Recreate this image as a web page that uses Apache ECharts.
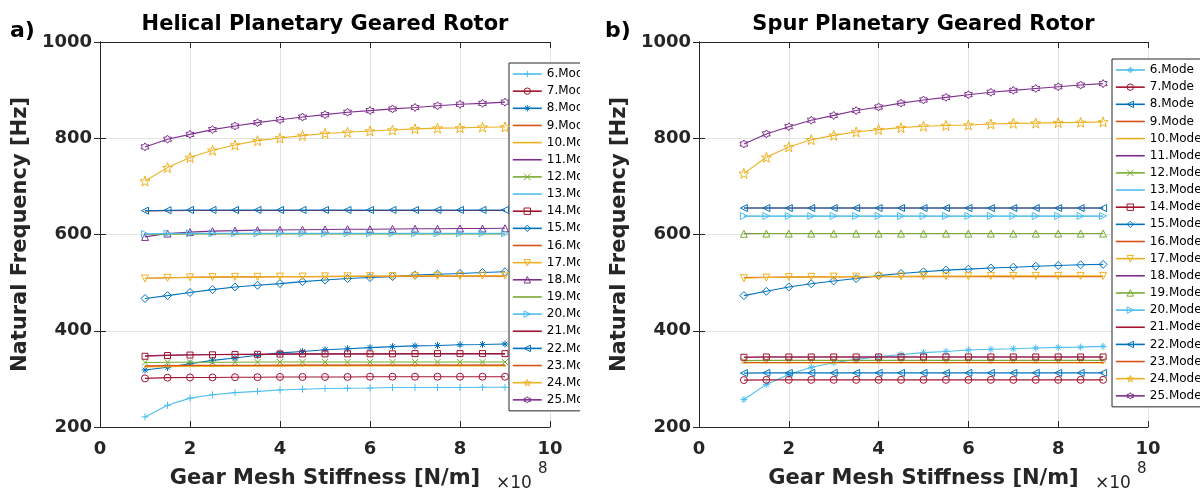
<!DOCTYPE html>
<html><head><meta charset="utf-8">
<script src="https://cdn.jsdelivr.net/npm/echarts@6/dist/echarts.min.js"></script>
<style>
html,body{margin:0;padding:0;background:#fff;width:1200px;height:494px;overflow:hidden}
#a{position:absolute;left:0;top:0;width:580px;height:494px}
#b{position:absolute;left:590px;top:0;width:610px;height:494px}
</style>
</head><body><div id="a"></div><div id="b"></div>
<script>
// ---------------- data ----------------
const xs = [1,1.5,2,2.5,3,3.5,4,4.5,5,5.5,6,6.5,7,7.5,8,8.5,9];
const xTicks = [0,2,4,6,8,10];
const yTicks = [200,400,600,800,1000];
const modeNames = ['6.Mode','7.Mode','8.Mode','9.Mode','10.Mode','11.Mode','12.Mode','13.Mode','14.Mode','15.Mode','16.Mode','17.Mode','18.Mode','19.Mode','20.Mode','21.Mode','22.Mode','23.Mode','24.Mode','25.Mode'];

// a) Helical planetary geared rotor
const h6  = [221,245,260,267,271.5,274,277,278.5,280,280.5,281,282,282,282,282,282.5,282.5];
const h7  = [301,302.5,303,303,303.5,303.5,304,304,304,304,304.5,304.5,304.5,304.5,304.5,304.5,304.5];
const h8  = [318.5,324,331.5,338.5,343.5,349,354,357,360.5,362.5,365,367,368.5,369.5,371,371.5,372.5];
const h9  = [326,326.5,327,327,327.5,327.5,327.5,328,328,328,328,328,328,328,328,328,328];
const h10 = [325,325.5,326,326,326.5,326.5,326.5,327,327,327,327,327,327,327,327,327,327];
const h11 = [348,349.5,350,350.5,351,351,351.5,351.5,351.5,352,352,352,352,352,352,352,352];
const h12 = [334,334.5,334.5,334.5,334.5,335,335,335,335,335,335,335,335,335,335,335,335];
const h13 = [601,601.5,601.5,602,602,602,602,602,602,602,602,602,602,602,602,602,602];
const h14 = [347,348.5,349.5,350,350.5,351,351.5,352,352,352,352,352,352.5,352.5,352.5,352.5,352.5];
const h15 = [467,473,479.5,485.5,491,494.5,498,502,505.5,508.5,510.5,512.5,515.5,517.5,519,521,522.5];
const h16 = [509,510,511,511.5,512,512,512.5,512.5,512.5,513,513,513,513,513.5,513.5,513.5,513.5];
const h17 = [508.5,510,511,511.5,512,512,512.5,512.5,513,513,513.5,513.5,514,514,514,514.5,514.5];
const h18 = [595,602,605,607,608,609,609.5,610,610.5,611,611,611.5,612,612,612.5,612.5,613];
const h19 = [600,600.5,601,601,601,601,601,601,601,601,601,601,601,601,601,601,601];
const h20 = [601,602,602.5,602.5,602.5,602.5,602.5,602.5,602.5,602.5,602.5,602.5,602.5,602.5,602.5,602.5,602.5];
const h21 = [649,649.5,650,650,650,650,650,650,650,650,650,650,650,650,650,650,650];
const h22 = [649.5,650.5,651,651,651,651,651,651,651,651,651,651,651,651,651,651,651];
const h23 = [327,327.5,328,328,328,328,328.5,328.5,328.5,328.5,328.5,328.5,328.5,328.5,328.5,328.5,328.5];
const h24 = [711,739,760,775,786,795,800.5,805.5,810,812.5,815,817,819.5,821,821.5,823,823.5];
const h25 = [782,798,808,818,825.5,832.5,838.5,844,849,854,857.5,861,864,867.5,870.5,872.5,875];

// b) Spur planetary geared rotor
const s6  = [257,288.5,309,324,333.5,340.5,346,350.5,354.5,357,360,361.5,362.5,364,365.5,366,367.5];
const s7  = [297.5,298,298,298,298,298,298,298,298,298,298,298,298,298,298,298,298];
const s8  = [312,312.5,312.5,312.5,312.5,312.5,312.5,312.5,312.5,312.5,312.5,312.5,312.5,312.5,312.5,312.5,312.5];
const s9  = [334,334,334,334,334,334,334,334,334,334,334,334,334,334,334,334,334];
const s10 = [333,333,333,333,333,333,333,333,333,333,333,333,333,333,333,333,333];
const s11 = [345,345.5,345.5,345.5,345.5,345.5,345.5,345.5,345.5,345.5,345.5,345.5,345.5,345.5,345.5,345.5,345.5];
const s12 = [338,338.5,338.5,338.5,338.5,338.5,338.5,338.5,338.5,338.5,338.5,338.5,338.5,338.5,338.5,338.5,338.5];
const s13 = [638,638,638,638,638,638,638,638,638,638,638,638,638,638,638,638,638];
const s14 = [345,345.5,345.5,345.5,345.5,345.5,345.5,345.5,345.5,345.5,345.5,345.5,345.5,345.5,345.5,345.5,345.5];
const s15 = [473,482,491,497.5,503.5,508.5,514.5,519,522.5,526,528,530.5,532,534,535.5,537,538];
const s16 = [510.5,511,511.5,512,512,512.5,512.5,512.5,512.5,512.5,512.5,512.5,512.5,512.5,512.5,512.5,512.5];
const s17 = [509,510.5,511.5,512,512.5,512.5,513,513,513.5,513.5,513.5,514,514,514,514,514,514];
const s18 = [602,602,602,602,602,602,602,602,602,602,602,602,602,602,602,602,602];
const s19 = [601.5,602,602,602,602,602,602,602,602,602,602,602,602,602,602,602,602];
const s20 = [638.5,638.5,638.5,638.5,638.5,638.5,638.5,638.5,638.5,638.5,638.5,638.5,638.5,638.5,638.5,638.5,638.5];
const s21 = [655,655,655,655,655,655,655,655,655,655,655,655,655,655,655,655,655];
const s22 = [655,655,655,655,655,655,655,655,655,655,655,655,655,655,655,655,655];
const s23 = [334,334,334,334,334,334,334,334,334,334,334,334,334,334,334,334,334];
const s24 = [727,760.5,782,797,806,813,818,822,825,826.5,827.5,829.5,831,831.5,832.5,833,834];
const s25 = [788,809,824,837.5,847.5,857.5,865,873,879.5,885,890.5,895.5,899.5,903.5,907,910.5,913.5];

const helical = [h6,h7,h8,h9,h10,h11,h12,h13,h14,h15,h16,h17,h18,h19,h20,h21,h22,h23,h24,h25];
const spur    = [s6,s7,s8,s9,s10,s11,s12,s13,s14,s15,s16,s17,s18,s19,s20,s21,s22,s23,s24,s25];

// ---------------- styles ----------------
const BLUE='#0072BD', ORANGE='#D95319', YELLOW='#EDB120', PURPLE='#7E2F8E', GREEN='#77AC30', CYAN='#4DBEEE', RED='#A2142F';
const modeColors = [CYAN,RED,BLUE,ORANGE,YELLOW,PURPLE,GREEN,CYAN,RED,BLUE,ORANGE,YELLOW,PURPLE,GREEN,CYAN,RED,BLUE,ORANGE,YELLOW,PURPLE];

function starPath(n, R, r){
  let d='';
  for(let k=0;k<2*n;k++){
    const ang = -Math.PI/2 + k*Math.PI/n;
    const rad = (k%2===0)?R:r;
    const px=(50+rad*Math.cos(ang)).toFixed(2), py=(50+rad*Math.sin(ang)).toFixed(2);
    d += (k===0?'M':'L')+px+','+py;
  }
  return 'path://'+d+'Z';
}
const PLUS='path://M0,5L10,5M5,0L5,10';
const CROSS='path://M1,1L9,9M9,1L1,9';
const AST='path://M0,5L10,5M5,0L5,10M1.5,1.5L8.5,8.5M8.5,1.5L1.5,8.5';
const STAR=starPath(5,50,20);
const HEX=starPath(6,50,30);
const DOTP='path://M0,0L0,0M10,10L10,10M4,4L6,4L6,6L4,6Z';
const BLANK='path://M0,0L0,0M10,10L10,10';
const M = {
  plus:[PLUS,0,7], cross:[CROSS,0,6], ast:[AST,0,7], circle:['circle',0,7], square:['rect',0,6],
  diamond:['diamond',0,8], up:['triangle',0,7], down:['triangle',180,7], left:['triangle',90,7],
  right:['triangle',-90,7], dot:[DOTP,0,9], star:[STAR,0,10], hex:[HEX,0,8], none:[BLANK,0,1]
};
const helMarkers = ['plus','circle','ast','none','dot','none','cross','none','square','diamond','none','down','up','none','right','none','left','none','star','hex'];
const spurMarkers = ['ast','circle','left','none','dot','none','cross','none','square','diamond','none','down','none','up','right','none','left','none','star','hex'];

const FONT='DejaVu Sans', TXT='#262626';

function buildSeries(sets, markers){
  return sets.map((vals,i)=>{
    const c = modeColors[i], m = M[markers[i]];
    const filled = markers[i]==='dot';
    return {
      name: modeNames[i], type:'line', data: xs.map((x,j)=>[x, vals[j]]),
      symbol: m[0], symbolRotate: m[1], symbolSize: m[2], showSymbol: markers[i]!=='none',
      lineStyle:{color:c, width:1.1},
      itemStyle:{color: filled? c : 'rgba(255,255,255,0)', borderColor:c, borderWidth: filled?0:1},
      emphasis:{disabled:true}, silent:true, z: 2+i
    };
  });
}
function legendData(markers){
  return modeNames.map((n,i)=> markers[i]==='dot'
    ? {name:n, itemStyle:{color:modeColors[i], borderWidth:0}}
    : {name:n});
}

function buildOption(cfg){
  const axisLabel = {color:TXT, fontFamily:FONT, fontWeight:'bold', fontSize:18, formatter:v=>String(v)};
  const axisLine = {show:true, lineStyle:{color:TXT, width:1}};
  const tick = {show:true, inside:true, length:6, lineStyle:{color:TXT}};
  return {
    animation:false,
    grid:{left:cfg.gl, top:42, width:cfg.gw, height:386},
    xAxis:[
      {type:'value', min:xTicks[0], max:xTicks[xTicks.length-1], interval:xTicks[1]-xTicks[0],
       axisLine, axisTick:tick, axisLabel:Object.assign({},axisLabel,{margin:13}),
       splitLine:{show:true, lineStyle:{color:'#e3e3e3', width:1}},
       name:'Gear Mesh Stiffness [N/m]', nameLocation:'middle', nameGap:41,
       nameTextStyle:{color:TXT, fontFamily:FONT, fontWeight:'bold', fontSize:21}},
      {type:'value', position:'top', min:xTicks[0], max:xTicks[xTicks.length-1], interval:xTicks[1]-xTicks[0],
       axisLine, axisTick:tick, axisLabel:{show:false}, splitLine:{show:false}}
    ],
    yAxis:[
      {type:'value', min:yTicks[0], max:yTicks[yTicks.length-1], interval:yTicks[1]-yTicks[0],
       axisLine, axisTick:tick, axisLabel:Object.assign({},axisLabel,{margin:8}),
       splitLine:{show:true, lineStyle:{color:'#e3e3e3', width:1}},
       name:'Natural Frequency [Hz]', nameLocation:'middle', nameGap:59,
       nameTextStyle:{color:TXT, fontFamily:FONT, fontWeight:'bold', fontSize:21}},
      {type:'value', position:'right', min:yTicks[0], max:yTicks[yTicks.length-1], interval:yTicks[1]-yTicks[0],
       axisLine, axisTick:tick, axisLabel:{show:false}, splitLine:{show:false}}
    ],
    legend:{orient:'vertical', left:cfg.ll, top:cfg.lt, itemWidth:29, itemHeight:8, itemGap:3.15,
      padding:[4,40,4,3], backgroundColor:'#fff', borderColor:TXT, borderWidth:1, borderRadius:0,
      selectedMode:false, data:legendData(cfg.markers),
      itemStyle:{color:'rgba(255,255,255,0)', borderWidth:1},
      lineStyle:{width:1.6},
      textStyle:{fontFamily:FONT, fontSize:12, color:'#000', lineHeight:14}},
    graphic:[
      {type:'text', x:cfg.tagX, y:31, style:{text:cfg.tag, font:'bold 22px "DejaVu Sans"', fill:'#000', align:'left', verticalAlign:'middle'}},
      {type:'text', x:cfg.tx, y:25, style:{text:cfg.title, font:'bold 21px "DejaVu Sans"', fill:'#000', align:'center', verticalAlign:'middle'}},
      {type:'text', x:cfg.ex, y:484, style:{text:'\u00d710', font:'17px "DejaVu Sans"', fill:TXT, align:'left', verticalAlign:'middle'}},
      {type:'text', x:cfg.ex+42, y:469, style:{text:'8', font:'15px "DejaVu Sans"', fill:TXT, align:'left', verticalAlign:'middle'}}
    ],
    series: cfg.series
  };
}

const chartA = echarts.init(document.getElementById('a'), null, {renderer:'canvas'});
chartA.setOption(buildOption({gl:100, gw:450, ll:509, lt:63, tag:'a)', tagX:10, tx:325, title:'Helical Planetary Geared Rotor', ex:496,
  markers:helMarkers, series: buildSeries(helical, helMarkers)}));

const chartB = echarts.init(document.getElementById('b'), null, {renderer:'canvas'});
chartB.setOption(buildOption({gl:109, gw:449, ll:522, lt:59, tag:'b)', tagX:15, tx:333.5, title:'Spur Planetary Geared Rotor', ex:505,
  markers:spurMarkers, series: buildSeries(spur, spurMarkers)}));
</script>
</body></html>
